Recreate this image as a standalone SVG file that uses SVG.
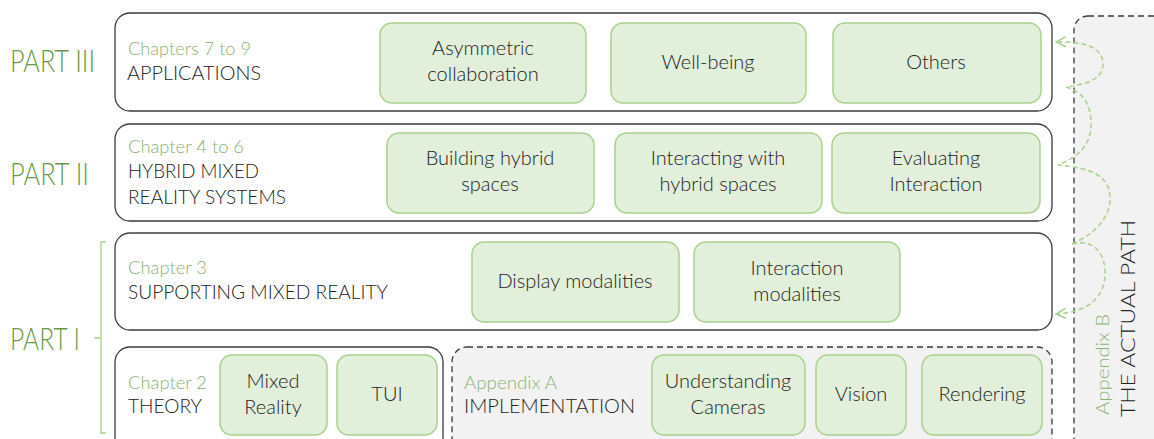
<svg xmlns="http://www.w3.org/2000/svg" width="1154" height="439" viewBox="0 0 1154 439">
<style>
.sec{fill:#fff;stroke:#3a3a3a;stroke-width:1.3}
.dash{fill:#f2f2f2;stroke:#3a3a3a;stroke-width:1.3;stroke-dasharray:6 4}
.box{fill:#e2efda;stroke:#a9d18e;stroke-width:1.5}
text{font-family:Lato,"Liberation Sans",sans-serif;font-weight:300}
.part{fill:#6a9a48;font-size:31px}
.ch{fill:#8ab374;font-size:17px}
.ti{fill:#222;font-size:20px}
.bt{fill:#222;font-size:20px;text-anchor:middle}
.path{fill:none;stroke:#a9d18e;stroke-width:1.5;stroke-dasharray:5 3}
</style>
<defs>
<marker id="arr" viewBox="0 0 12 12" refX="11" refY="6" markerWidth="12" markerHeight="12" markerUnits="userSpaceOnUse" orient="auto">
<path d="M1,1 L11,6 L1,11" fill="none" stroke="#a9d18e" stroke-width="1.5"/>
</marker>
</defs>

<g id="appendixB">
<rect class="dash" x="1074" y="16" width="100" height="440" rx="14"/>
<text class="ch" transform="translate(1109,415) rotate(-90)" textLength="101" lengthAdjust="spacingAndGlyphs">Appendix B</text>
<text class="ti" transform="translate(1135,417) rotate(-90)" textLength="197" lengthAdjust="spacingAndGlyphs">THE ACTUAL PATH</text>
</g>

<g id="part3">
<text class="part" x="10" y="72" textLength="85" lengthAdjust="spacingAndGlyphs">PART III</text>
<rect class="sec" x="115" y="13" width="937" height="98" rx="15"/>
<text class="ch" x="128" y="55" textLength="123" lengthAdjust="spacingAndGlyphs">Chapters 7 to 9</text>
<text class="ti" x="127" y="80" textLength="134" lengthAdjust="spacingAndGlyphs">APPLICATIONS</text>
</g>
<g id="asym"><rect class="box" x="380" y="23" width="206" height="80" rx="12"/><text class="bt" x="483" y="55">Asymmetric</text><text class="bt" x="483" y="81">collaboration</text></g>
<g id="wellbeing"><rect class="box" x="611" y="23" width="195" height="80" rx="12"/><text class="bt" x="708" y="69">Well-being</text></g>
<g id="others"><rect class="box" x="833" y="23" width="208" height="80" rx="12"/><text class="bt" x="936" y="69">Others</text></g>

<g id="part2">
<text class="part" x="10" y="185" textLength="79" lengthAdjust="spacingAndGlyphs">PART II</text>
<rect class="sec" x="115" y="124" width="937" height="97" rx="15"/>
<text class="ch" x="128" y="153" textLength="116" lengthAdjust="spacingAndGlyphs">Chapter 4 to 6</text>
<text class="ti" x="128" y="178" textLength="131" lengthAdjust="spacingAndGlyphs">HYBRID MIXED</text>
<text class="ti" x="128" y="204" textLength="158" lengthAdjust="spacingAndGlyphs">REALITY SYSTEMS</text>
</g>
<g id="building"><rect class="box" x="387" y="133" width="207" height="80" rx="12"/><text class="bt" x="490" y="165">Building hybrid</text><text class="bt" x="490" y="191">spaces</text></g>
<g id="interacting"><rect class="box" x="615" y="133" width="207" height="80" rx="12"/><text class="bt" x="718" y="165">Interacting with</text><text class="bt" x="718" y="191">hybrid spaces</text></g>
<g id="evaluating"><rect class="box" x="832" y="133" width="208" height="80" rx="12"/><text class="bt" x="936" y="165">Evaluating</text><text class="bt" x="936" y="191">Interaction</text></g>

<g id="part1">
<text class="part" x="10" y="350" textLength="70" lengthAdjust="spacingAndGlyphs">PART I</text>
<path d="M106,242 L101,242 L101,433 L106,433 M101,338 L94,338" fill="none" stroke="#a9d18e" stroke-width="1.3"/>
</g>
<g id="chapter3">
<rect class="sec" x="115" y="233" width="937" height="97" rx="15"/>
<text class="ch" x="128" y="274" textLength="79" lengthAdjust="spacingAndGlyphs">Chapter 3</text>
<text class="ti" x="128" y="299" textLength="260" lengthAdjust="spacingAndGlyphs">SUPPORTING MIXED REALITY</text>
</g>
<g id="display"><rect class="box" x="472" y="242" width="207" height="80" rx="12"/><text class="bt" x="575" y="288">Display modalities</text></g>
<g id="interaction"><rect class="box" x="694" y="242" width="206" height="80" rx="12"/><text class="bt" x="797" y="275">Interaction</text><text class="bt" x="797" y="301">modalities</text></g>

<g id="chapter2">
<rect class="sec" x="115" y="347" width="328" height="110" rx="15"/>
<text class="ch" x="128" y="389" textLength="79" lengthAdjust="spacingAndGlyphs">Chapter 2</text>
<text class="ti" x="128" y="413" textLength="74" lengthAdjust="spacingAndGlyphs">THEORY</text>
</g>
<g id="mixedreality"><rect class="box" x="220" y="355" width="107" height="80" rx="12"/><text class="bt" x="273" y="388">Mixed</text><text class="bt" x="273" y="414">Reality</text></g>
<g id="tui"><rect class="box" x="337" y="355" width="100" height="80" rx="12"/><text class="bt" x="387" y="401">TUI</text></g>

<g id="appendixA">
<rect class="dash" x="452" y="347" width="600" height="110" rx="15"/>
<text class="ch" x="464" y="389" textLength="93" lengthAdjust="spacingAndGlyphs">Appendix A</text>
<text class="ti" x="464" y="413" textLength="171" lengthAdjust="spacingAndGlyphs">IMPLEMENTATION</text>
</g>
<g id="cameras"><rect class="box" x="652" y="355" width="153" height="80" rx="12"/><text class="bt" x="728" y="388">Understanding</text><text class="bt" x="728" y="414">Cameras</text></g>
<g id="vision"><rect class="box" x="816" y="355" width="90" height="80" rx="12"/><text class="bt" x="861" y="401">Vision</text></g>
<g id="rendering"><rect class="box" x="922" y="355" width="120" height="80" rx="12"/><text class="bt" x="982" y="401">Rendering</text></g>

<g id="connectors">
<path class="path" d="M1072,244 C1095,238 1106,255 1105,275 C1104,298 1088,312 1056,314" marker-end="url(#arr)"/>
<path class="path" d="M1072,244 C1095,234 1111,217 1110,197 C1109,176 1092,168 1058,165 C1078,157 1092,145 1091,122 C1090,103 1083,92 1066,87 C1086,84 1103,80 1103,64 C1103,50 1090,41 1056,42" marker-end="url(#arr)"/>
</g>
</svg>
